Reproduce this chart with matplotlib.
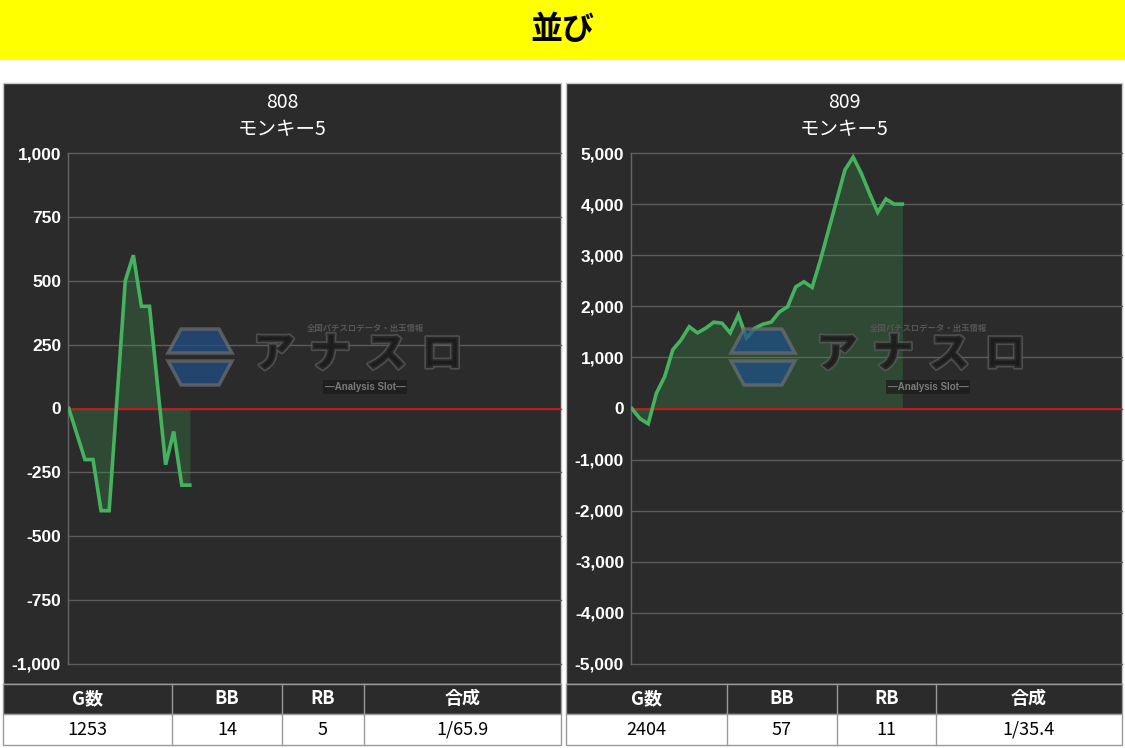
import matplotlib
matplotlib.use("Agg")
import matplotlib.pyplot as plt
from matplotlib.patches import Rectangle, Polygon
import matplotlib.patheffects as pe

plt.rcParams['font.family'] = ['Noto Sans CJK JP', 'DejaVu Sans']

# ---------------- data ----------------
banner_title = "並び"
machines = ["808", "809"]
machine_name = "モンキー5"

left_x = [0, 2, 3, 4, 5, 7, 8, 9, 10, 12, 13, 14, 15]
left_y = [0, -200, -200, -400, -400, 500, 600, 400, 400, -220, -90, -300, -300]
left_ticks = [-1000, -750, -500, -250, 0, 250, 500, 750, 1000]

right_x = list(range(34))
right_y = [0, -200, -300, 300, 620, 1150, 1340, 1600, 1480, 1570, 1690, 1670,
           1480, 1830, 1380, 1570, 1650, 1690, 1890, 1990, 2380, 2480, 2370,
           2900, 3490, 4080, 4670, 4920, 4600, 4210, 3840, 4100, 4000, 4000]
right_ticks = [-5000, -4000, -3000, -2000, -1000, 0, 1000, 2000, 3000, 4000, 5000]

table_headers = ["G数", "BB", "RB", "合成"]
left_table = ["1253", "14", "5", "1/65.9"]
right_table = ["2404", "57", "11", "1/35.4"]

watermark_main = "アナスロ"
watermark_top = "全国パチスロデータ・出玉情報"
watermark_sub = "—Analysis Slot—"

# ---------------- layout (pixels) ----------------
W, H = 1125, 748
fig = plt.figure(figsize=(W / 100, H / 100), dpi=100)
fig.patch.set_facecolor("white")

def fx(px):
    return px / W

def fy(py):
    return 1 - py / H

def frect(x0, y0, x1, y1, zorder=0.5, **kw):
    r = Rectangle((fx(x0), fy(y1)), fx(x1) - fx(x0), fy(y0) - fy(y1),
                  transform=fig.transFigure, zorder=zorder, **kw)
    fig.patches.append(r)
    return r

# banner
frect(0, 0, W, 60, facecolor="#ffff00", edgecolor="none")
fig.text(fx(562), fy(30), banner_title, ha="center", va="center",
         fontsize=23, fontweight="bold", color="black")

BG = "#2b2b2b"
panels = [
    dict(x0=3, x1=561, ax_left=68, data_x=left_x, data_y=left_y,
         ticks=left_ticks, ylim=(-1000, 1000), xlim=(-0.1, 61.0),
         cols=[3, 172, 282, 364, 561], table=left_table, name=machines[0]),
    dict(x0=566, x1=1122, ax_left=631, data_x=right_x, data_y=right_y,
         ticks=right_ticks, ylim=(-5000, 5000), xlim=(-0.1, 59.8),
         cols=[566, 727, 837, 936, 1122], table=right_table, name=machines[1]),
]

top_px, bot_px = 153, 664

for p in panels:
    frect(p["x0"], 83, p["x1"], 684, facecolor=BG, edgecolor="#c8c8c8", lw=1)
    cx = (p["x0"] + p["x1"]) / 2
    fig.text(fx(cx), fy(102), p["name"], ha="center", va="center",
             fontsize=14, color="white")
    fig.text(fx(cx), fy(130), machine_name, ha="center", va="center",
             fontsize=14, color="white")

    ax = fig.add_axes([fx(p["ax_left"]), fy(bot_px), fx(p["x1"]) - fx(p["ax_left"]),
                       fy(top_px) - fy(bot_px)])
    ax.set_zorder(2)
    ax.set_facecolor("none")
    ax.set_xlim(*p["xlim"])
    ax.set_ylim(*p["ylim"])
    ax.set_yticks(p["ticks"])
    ax.set_yticklabels([f"{t:,}" for t in p["ticks"]], family="Liberation Sans",
                       fontweight="bold", fontsize=12.5, color="white")
    ax.set_xticks([])
    ax.tick_params(axis="y", length=0, pad=5)
    for s in ["top", "right", "bottom"]:
        ax.spines[s].set_visible(False)
    ax.spines["left"].set_color("#666666")
    ax.spines["left"].set_linewidth(1)
    ax.grid(axis="y", color="#5c5c5c", lw=1, clip_on=False)
    ax.set_axisbelow(True)

    ax.fill_between(p["data_x"], p["data_y"], 0, color="#3a9a4c", alpha=0.28,
                    lw=0, zorder=2)
    ax.axhline(0, color="#c01a1a", lw=1.5, zorder=3)
    ax.plot(p["data_x"], p["data_y"], color="#45b35e", lw=2.6, zorder=4,
            solid_joinstyle="miter")

    # watermark (approximation of the logo)
    hx = p["x0"] + 197
    hy = 357
    upper = [(hx - 32, hy - 4), (hx - 19, hy - 28), (hx + 19, hy - 28), (hx + 32, hy - 4)]
    lower = [(hx - 32, hy + 4), (hx + 32, hy + 4), (hx + 19, hy + 28), (hx - 19, hy + 28)]
    for poly in (upper, lower):
        fig.patches.append(Polygon([(fx(a), fy(b)) for a, b in poly],
                                   closed=True, transform=fig.transFigure,
                                   facecolor="#1f4f8a", edgecolor="#707070",
                                   lw=2.5, alpha=0.7, zorder=5))
    for k, ch in enumerate(watermark_main):
        fig.text(fx(hx + 74 + 56 * k), fy(355), ch, ha="center", va="center",
                 fontsize=30, fontweight="black", style="italic", color="#1c1c1c",
                 alpha=0.75, zorder=6,
                 path_effects=[pe.withStroke(linewidth=2.5, foreground="#5a5a5a")])
    fig.text(fx(hx + 165), fy(328), watermark_top, ha="center",
             va="center", fontsize=6, fontweight="bold", color="#555555", zorder=6)
    fig.text(fx(hx + 165), fy(387), watermark_sub, ha="center", va="center",
             fontsize=7, color="#7a7a7a", zorder=6, family="Liberation Sans",
             fontweight="bold",
             bbox=dict(boxstyle="square,pad=0.2", facecolor="#1a1a1a",
                       edgecolor="none", alpha=0.7))

    # table
    cols = p["cols"]
    frect(cols[0], 684, cols[-1], 714, facecolor=BG, edgecolor="#9a9a9a", lw=1)
    frect(cols[0], 714, cols[-1], 745, facecolor="white", edgecolor="#9a9a9a", lw=1)
    for c in cols[1:-1]:
        fig.add_artist(plt.Line2D([fx(c), fx(c)], [fy(684), fy(745)],
                                  transform=fig.transFigure, color="#9a9a9a", lw=1))
    for i in range(4):
        ccx = (cols[i] + cols[i + 1]) / 2
        fig.text(fx(ccx), fy(699), table_headers[i], ha="center", va="center",
                 fontsize=13, fontweight="bold", color="white")
        fig.text(fx(ccx), fy(730), p["table"][i], ha="center", va="center",
                 fontsize=13, color="black")

fig.savefig("out.png", dpi=100, facecolor="white")
